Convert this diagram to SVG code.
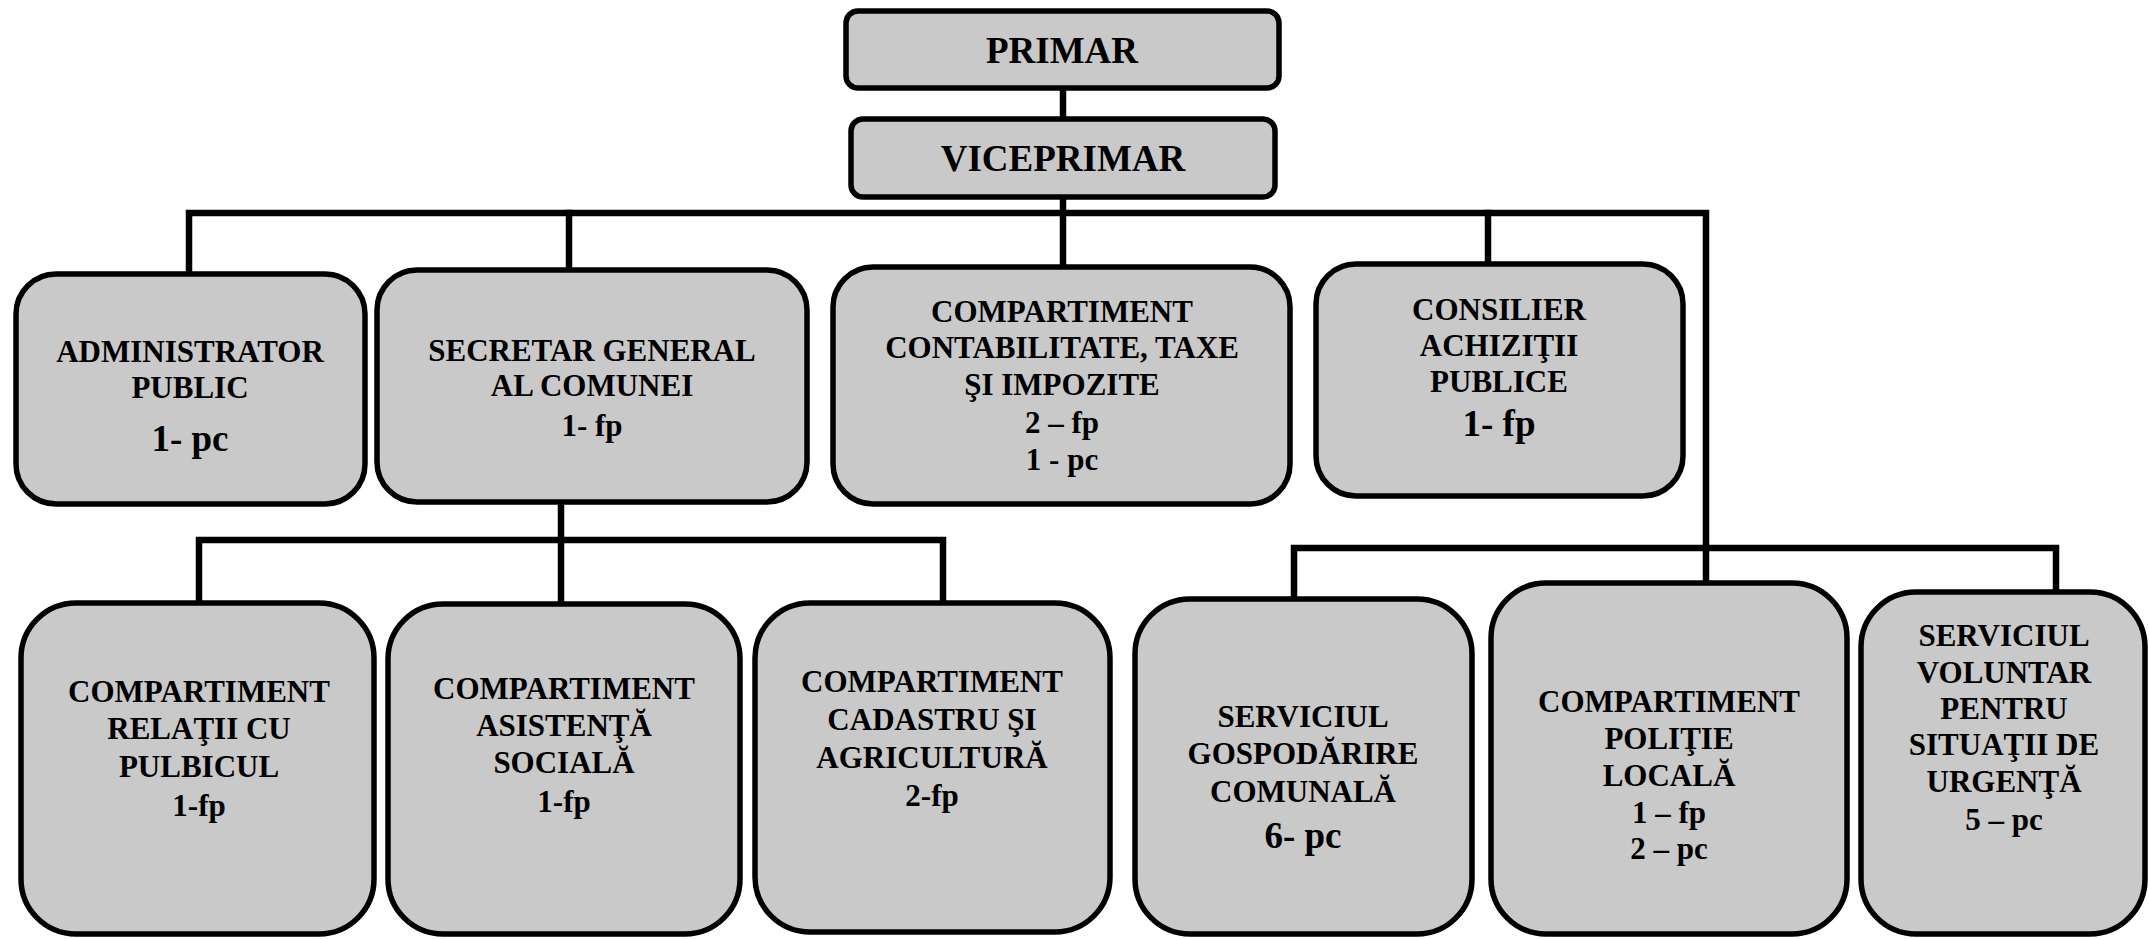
<svg xmlns="http://www.w3.org/2000/svg" width="2149" height="939" viewBox="0 0 2149 939">
<style>
.box{fill:#c9c9c9;stroke:#000;stroke-width:5.5}
.ln{fill:none;stroke:#000;stroke-width:6.5;stroke-linejoin:miter;stroke-linecap:square}
.t{font-family:"Liberation Serif","Times New Roman",serif;font-weight:bold;font-size:31px;text-anchor:middle;fill:#000}
.big{font-size:37px}
.top{font-size:37px}
</style>
<rect width="2149" height="939" fill="#fff"/>
<g id="connectors">
<path class="ln" d="M1063 88V119"/>
<path class="ln" d="M1063 197V264"/>
<path class="ln" d="M189 274V213H1706V583"/>
<path class="ln" d="M569 213V270"/>
<path class="ln" d="M1488 213V264"/>
<path class="ln" d="M561 502V604"/>
<path class="ln" d="M199 603V540H943V603"/>
<path class="ln" d="M1294 599V548H2056V592"/>
</g>
<g id="primar">
<rect class="box" x="846" y="11" width="433" height="77" rx="12"/>
<text class="t top" transform="translate(1062 0)"><tspan x="0" y="63">PRIMAR</tspan></text>
</g>
<g id="viceprimar">
<rect class="box" x="851" y="119" width="424" height="78" rx="12"/>
<text class="t top" transform="translate(1063 0)"><tspan x="0" y="171">VICEPRIMAR</tspan></text>
</g>
<g id="administrator">
<rect class="box" x="16" y="274" width="349" height="230" rx="40"/>
<text class="t" transform="translate(190 0)"><tspan x="0" y="362">ADMINISTRATOR</tspan><tspan x="0" y="398">PUBLIC</tspan><tspan class="big" x="0" y="451">1- pc</tspan></text>
</g>
<g id="secretar">
<rect class="box" x="377" y="270" width="430" height="232" rx="40"/>
<text class="t" transform="translate(592 0)"><tspan x="0" y="361">SECRETAR GENERAL</tspan><tspan x="0" y="396">AL COMUNEI</tspan><tspan x="0" y="436">1- fp</tspan></text>
</g>
<g id="contabilitate">
<rect class="box" x="833" y="267" width="457" height="237" rx="40"/>
<text class="t" transform="translate(1062 0)"><tspan x="0" y="322">COMPARTIMENT</tspan><tspan x="0" y="358">CONTABILITATE, TAXE</tspan><tspan x="0" y="395">ŞI IMPOZITE</tspan><tspan x="0" y="433">2 – fp</tspan><tspan x="0" y="470">1 - pc</tspan></text>
</g>
<g id="consilier">
<rect class="box" x="1316" y="264" width="367" height="232" rx="40"/>
<text class="t" transform="translate(1499 0)"><tspan x="0" y="320">CONSILIER</tspan><tspan x="0" y="356">ACHIZIŢII</tspan><tspan x="0" y="392">PUBLICE</tspan><tspan class="big" x="0" y="436">1- fp</tspan></text>
</g>
<g id="relatii">
<rect class="box" x="21" y="603" width="353" height="331" rx="55"/>
<text class="t" transform="translate(199 0)"><tspan x="0" y="702">COMPARTIMENT</tspan><tspan x="0" y="739">RELAŢII CU</tspan><tspan x="0" y="777">PULBICUL</tspan><tspan x="0" y="816">1-fp</tspan></text>
</g>
<g id="asistenta">
<rect class="box" x="388" y="604" width="352" height="330" rx="55"/>
<text class="t" transform="translate(564 0)"><tspan x="0" y="699">COMPARTIMENT</tspan><tspan x="0" y="736">ASISTENŢĂ</tspan><tspan x="0" y="773">SOCIALĂ</tspan><tspan x="0" y="812">1-fp</tspan></text>
</g>
<g id="cadastru">
<rect class="box" x="755" y="603" width="355" height="329" rx="55"/>
<text class="t" transform="translate(932 0)"><tspan x="0" y="692">COMPARTIMENT</tspan><tspan x="0" y="730">CADASTRU ŞI</tspan><tspan x="0" y="768">AGRICULTURĂ</tspan><tspan x="0" y="806">2-fp</tspan></text>
</g>
<g id="gospodarire">
<rect class="box" x="1135" y="599" width="337" height="335" rx="55"/>
<text class="t" transform="translate(1303 0)"><tspan x="0" y="727">SERVICIUL</tspan><tspan x="0" y="764">GOSPODĂRIRE</tspan><tspan x="0" y="802">COMUNALĂ</tspan><tspan class="big" x="0" y="848">6- pc</tspan></text>
</g>
<g id="politie">
<rect class="box" x="1491" y="583" width="356" height="351" rx="55"/>
<text class="t" transform="translate(1669 0)"><tspan x="0" y="712">COMPARTIMENT</tspan><tspan x="0" y="749">POLIŢIE</tspan><tspan x="0" y="786">LOCALĂ</tspan><tspan x="0" y="823">1 – fp</tspan><tspan x="0" y="859">2 – pc</tspan></text>
</g>
<g id="voluntar">
<rect class="box" x="1861" y="592" width="284" height="342" rx="55"/>
<text class="t" transform="translate(2004 0)"><tspan x="0" y="646">SERVICIUL</tspan><tspan x="0" y="683">VOLUNTAR</tspan><tspan x="0" y="719">PENTRU</tspan><tspan x="0" y="755">SITUAŢII DE</tspan><tspan x="0" y="792">URGENŢĂ</tspan><tspan x="0" y="830">5 – pc</tspan></text>
</g>
</svg>
